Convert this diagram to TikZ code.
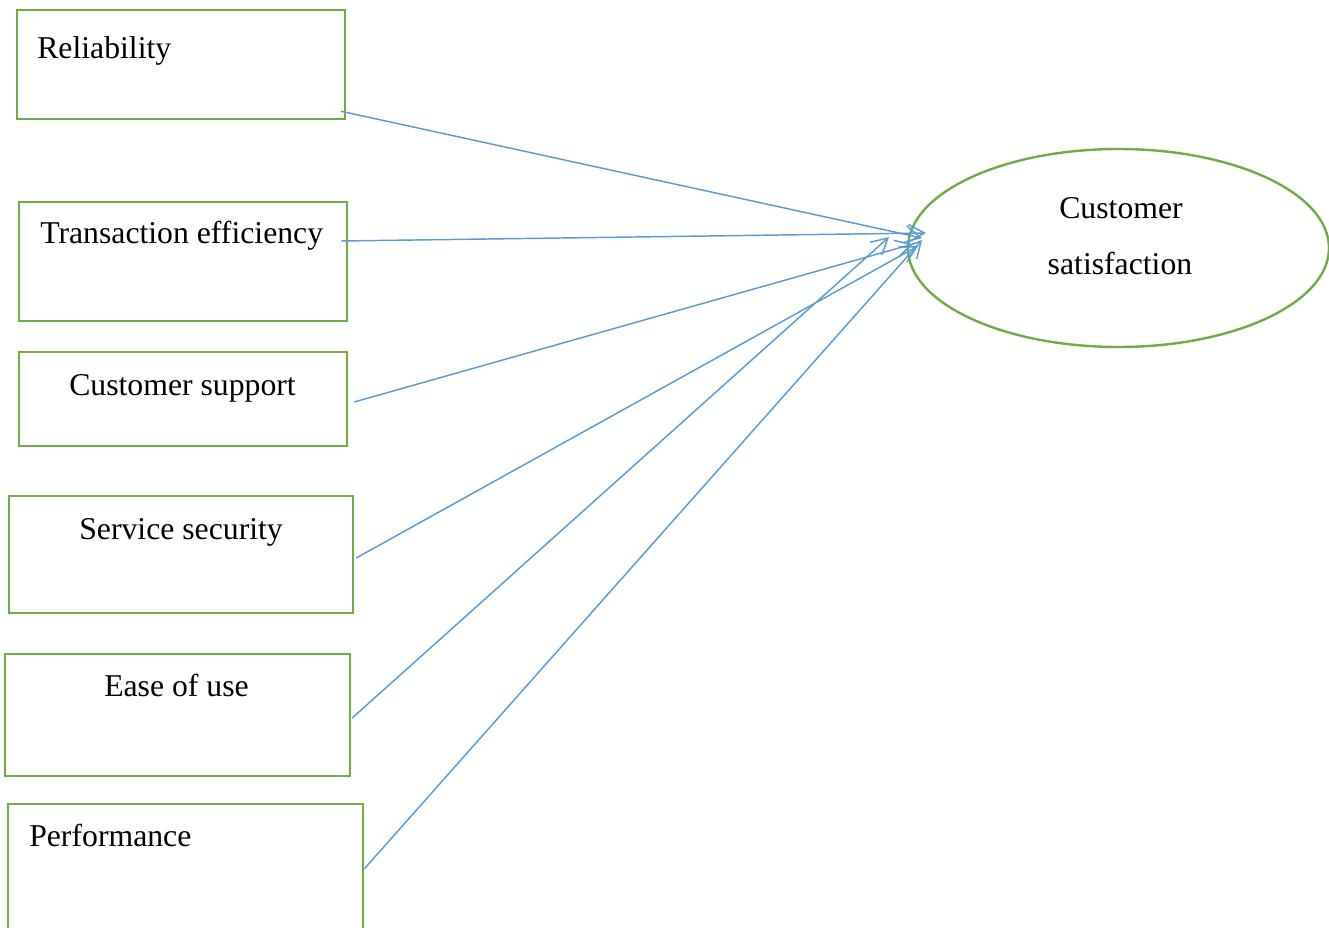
\documentclass[tikz,border=0pt]{standalone}
\usepackage{fontspec}
\setmainfont{Liberation Serif}
\usepackage{tikz}
\usetikzlibrary{arrows.meta,fit,shapes.geometric}

\definecolor{boxgreen}{RGB}{112,173,71}
\definecolor{linkblue}{RGB}{91,155,213}

\tikzset{
  factorbox/.style={draw=boxgreen, line width=1.8pt, inner sep=0pt},
  factorlabel/.style={inner sep=0pt, font=\fontsize{23.8}{28}\selectfont},
  link/.style={draw=linkblue, line width=1.1pt, -{Straight Barb[length=12pt,width=13pt]}}
}

\begin{document}
\begin{tikzpicture}[x=0.75pt,y=0.75pt,yscale=-1,xscale=1]
\useasboundingbox (0,0) rectangle (1329,928);
% Boxes
\node [factorbox, fit={(17,10) (345,119)}] (reliab) {};
\node [factorbox, fit={(19,202) (347,321)}] (transeff) {};
\node [factorbox, fit={(19,352) (347,446)}] (custsupp) {};
\node [factorbox, fit={(9,496) (353,613)}] (servsec) {};
\node [factorbox, fit={(5,654) (350,776)}] (easeuse) {};
\node [factorbox, fit={(8,804) (363,945)}] (perf) {};
% Ellipse
\node [draw=boxgreen, line width=1.8pt, ellipse, inner sep=0pt, minimum width=315.75pt, minimum height=148.5pt] (custsat) at (1118.5,248) {};
% Text Node
\node [factorlabel, anchor=base west] (reliabtxt) at (37,58) {Reliability};
\node [factorlabel, anchor=base west] (transefftxt) at (40,243) {Transaction efficiency};
\node [factorlabel, anchor=base west] (custsupptxt) at (69,395) {Customer support};
\node [factorlabel, anchor=base west] (servsectxt) at (79,539) {Service security};
\node [factorlabel, anchor=base west] (easeusetxt) at (104,696) {Ease of use};
\node [factorlabel, anchor=base west] (perftxt) at (29,846) {Performance};
\node [factorlabel, anchor=base] (custsattxt) at (1121,218.5) {Customer};
\node [factorlabel, anchor=base] (custsattxtb) at (1120,274) {satisfaction};
% Arrow tips
\coordinate (tipa) at (922,238);
\coordinate (tipb) at (926,233);
\coordinate (tipc) at (913,244);
\coordinate (tipd) at (918,246);
\coordinate (tipe) at (889,237);
\coordinate (tipf) at (922,240);
% Arrows
\draw [link] ([xshift=-4pt,yshift=-6.75pt]reliab.south east) -- (tipa);
\draw [link] ([xshift=-5.25pt]transeff.east |- 0,241) -- (tipb);
\draw [link] ([xshift=4.5pt]custsupp.east |- 0,402) -- (tipc);
\draw [link] ([xshift=1.5pt]servsec.east |- 0,558) -- (tipd);
\draw [link] ([xshift=0.75pt]easeuse.east |- 0,718) -- (tipe);
\draw [link] (perf.east |- 0,869) -- (tipf);
\end{tikzpicture}
\end{document}
